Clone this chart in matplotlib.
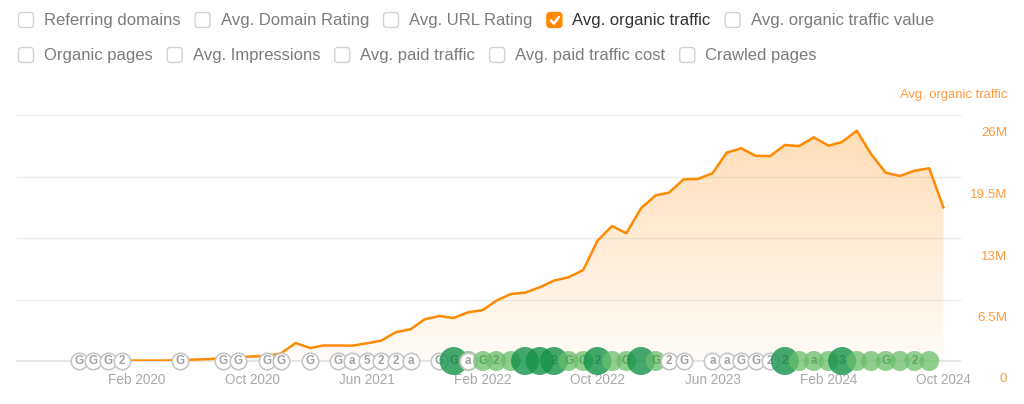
import numpy as np
import pandas as pd
import matplotlib
matplotlib.use("Agg")
import matplotlib.pyplot as plt
import matplotlib.dates as mdates
import matplotlib.transforms as mtransforms
from matplotlib.patches import FancyBboxPatch

plt.rcParams['font.family'] = ['Liberation Sans', 'DejaVu Sans']

# ---------------- data ----------------
months = pd.date_range("2020-01-01", "2024-10-01", freq="MS")
traffic_m = [
    0.05, 0.05, 0.05, 0.05, 0.10, 0.15, 0.20, 0.30, 0.40, 0.48, 0.53, 0.80,      # 2020
    1.90, 1.37, 1.64, 1.64, 1.62, 1.87, 2.15, 3.05, 3.35, 4.41, 4.76, 4.54,      # 2021
    5.15, 5.39, 6.37, 7.08, 7.22, 7.79, 8.49, 8.85, 9.62, 12.71, 14.27, 13.50,   # 2022
    16.14, 17.51, 17.79, 19.20, 19.24, 19.84, 22.02, 22.48, 21.67, 21.67, 22.83, 22.72,  # 2023
    23.64, 22.76, 23.15, 24.34, 21.88, 19.90, 19.55, 20.11, 20.37, 16.24,        # 2024
]

y_ticks_m = [0, 6.5, 13, 19.5, 26]
y_tick_labels = ["0", "6.5M", "13M", "19.5M", "26M"]
x_tick_dates = pd.to_datetime(["2020-02-01", "2020-10-01", "2021-06-01", "2022-02-01",
                               "2022-10-01", "2023-06-01", "2024-02-01", "2024-10-01"])
x_tick_labels = ["Feb 2020", "Oct 2020", "Jun 2021", "Feb 2022",
                 "Oct 2022", "Jun 2023", "Feb 2024", "Oct 2024"]

# update markers: date, kind (w = grey outline, l = light green, d = dark green), label
marker_dates = pd.to_datetime([
    "2019-10-01", "2019-11-01", "2019-12-01", "2020-01-01",
    "2020-05-01", "2020-08-01", "2020-09-01", "2020-11-01", "2020-12-01",
    "2021-02-01", "2021-04-01", "2021-05-01", "2021-06-01", "2021-07-01",
    "2021-08-01", "2021-09-01", "2021-11-01", "2021-12-01", "2022-01-01",
    "2022-01-01", "2022-02-01", "2022-03-01", "2022-04-01", "2022-05-01",
    "2022-06-01", "2022-07-01", "2022-08-01", "2022-09-01", "2022-10-01",
    "2022-11-01", "2022-12-01", "2023-01-01", "2023-02-01", "2023-03-01",
    "2023-04-01", "2023-06-01", "2023-07-01", "2023-08-01", "2023-09-01",
    "2023-10-01", "2023-11-01", "2023-12-01", "2024-01-01", "2024-02-01",
    "2024-03-01", "2024-04-01", "2024-05-01", "2024-06-01", "2024-07-01",
    "2024-08-01", "2024-09-01",
])
marker_kinds = [
    "w", "w", "w", "w",
    "w", "w", "w", "w", "w",
    "w", "w", "w", "w", "w",
    "w", "w", "w", "d", "l",
    "w", "l", "l", "l", "d",
    "d", "d", "l", "l", "d",
    "l", "l", "d", "l", "w",
    "w", "w", "w", "w", "w",
    "w", "d", "l", "l", "l",
    "d", "l", "l", "l", "l",
    "l", "l",
]
marker_labels = [
    "G", "G", "G", "2",
    "G", "G", "G", "G", "G",
    "G", "G", "a", "5", "2",
    "2", "a", "G", "G", "",
    "a", "G", "2", "", "",
    "", "2", "G", "G", "2",
    "", "G", "", "G", "2",
    "G", "a", "a", "G", "G",
    "2", "2", "", "a", "",
    "3", "", "", "G", "",
    "2", "",
]

legend_row1 = ["Referring domains", "Avg. Domain Rating", "Avg. URL Rating",
               "Avg. organic traffic", "Avg. organic traffic value"]
legend_row2 = ["Organic pages", "Avg. Impressions", "Avg. paid traffic",
               "Avg. paid traffic cost", "Crawled pages"]
checked_item = "Avg. organic traffic"

# ---------------- figure ----------------
W, H = 1024, 404
fig = plt.figure(figsize=(W / 100, H / 100), dpi=100)
fig.patch.set_facecolor("white")

# overlay axes in pixel coordinates (for legend / header)
lax = fig.add_axes([0, 0, 1, 1], zorder=0)
lax.set_xlim(0, W)
lax.set_ylim(H, 0)
lax.axis("off")

left_px, right_px, top_px, base_px = 17, 960, 115, 361
ax = fig.add_axes([left_px / W, (H - base_px) / H, (right_px - left_px) / W,
                   (base_px - top_px) / H], zorder=2)
ax.patch.set_alpha(0)

ORANGE = "#ff8a00"
LABEL_ORANGE = "#ff9a3c"

# x limits from pixel layout
px_per_day = (943.4 - 137) / (mdates.date2num(pd.Timestamp("2024-10-01")) - mdates.date2num(pd.Timestamp("2020-02-01")))
x_feb = mdates.date2num(pd.Timestamp("2020-02-01"))
x0 = x_feb - (137 - left_px) / px_per_day
x1 = x_feb + (right_px - 137) / px_per_day
ax.set_xlim(x0, x1)
ax.set_ylim(0, 26)

for s in ax.spines.values():
    s.set_visible(False)
ax.set_yticks([])

# grid lines
for v in y_ticks_m[1:]:
    ax.axhline(v, color="#ececec", lw=1.0, zorder=0, clip_on=False)
ax.axhline(0, color="#e2e2e2", lw=1.2, zorder=0.5, clip_on=False)

# gradient area
xnum = mdates.date2num(months)
yv = np.array(traffic_m)
poly = ax.fill_between(xnum, yv, 0, facecolor="none", edgecolor="none", zorder=1)
grad = np.linspace(0, 1, 256).reshape(-1, 1)
rgba = np.zeros((256, 1, 4))
rgba[..., 0] = 1.0
rgba[..., 1] = 0.54
rgba[..., 2] = 0.0
rgba[..., 3] = 0.03 + 0.27 * grad
im = ax.imshow(rgba, extent=[xnum[0], xnum[-1], 0, 26], origin="lower",
               aspect="auto", zorder=1, interpolation="bilinear")
path = poly.get_paths()[0]
im.set_clip_path(path, transform=ax.transData)

ax.plot(xnum, yv, color=ORANGE, lw=1.8, zorder=3, solid_joinstyle="round")

# x ticks
ax.set_xticks(mdates.date2num(x_tick_dates))
ax.set_xticklabels(x_tick_labels)
ax.tick_params(axis="x", length=0, pad=8.5, labelsize=9.8, labelcolor="#a9a9a9")

# right tick labels (below their grid lines)
ytrans = ax.get_yaxis_transform() + mtransforms.ScaledTranslation(47 / 100, -18.5 / 100, fig.dpi_scale_trans)
for v, lab in zip(y_ticks_m, y_tick_labels):
    ax.text(1.0, v, lab, transform=ytrans, ha="right", va="center",
            fontsize=9.6, color=LABEL_ORANGE, clip_on=False)

lax.text(1007, 95, "Avg. organic traffic", ha="right", va="center",
         fontsize=9.4, color=LABEL_ORANGE)

# markers
sizes = {"w": 16.5, "l": 20, "d": 28}
for i, (d, k, lab) in enumerate(zip(marker_dates, marker_kinds, marker_labels)):
    xd = mdates.date2num(d)
    z = 10 + 2 * i
    dia_pt = sizes[k] * 0.72
    if k == "w":
        ax.scatter([xd], [0], s=dia_pt ** 2, facecolor="white", edgecolor="#c6c6c6",
                   linewidth=1.2, zorder=z, clip_on=False)
        tc, ta = "#a3a3a3", 1.0
    elif k == "l":
        ax.scatter([xd], [0], s=dia_pt ** 2, facecolor="#6abf69", edgecolor="none",
                   alpha=0.75, zorder=z, clip_on=False)
        tc, ta = "#4f9d52", 0.8
    else:
        ax.scatter([xd], [0], s=dia_pt ** 2, facecolor="#14934a", edgecolor="none",
                   alpha=0.8, zorder=z, clip_on=False)
        tc, ta = "#2f7e4c", 0.8
    if lab:
        ax.text(xd, 0, lab, ha="center", va="center", fontsize=8.4, fontweight="bold",
                color=tc, alpha=ta, zorder=z + 1, clip_on=False)

# checkbox legend
renderer = fig.canvas.get_renderer()


def draw_row(items, y, x_start):
    x = x_start
    for name in items:
        checked = name == checked_item
        box = FancyBboxPatch((x + 0.5, y - 8), 15, 15,
                             boxstyle="round,pad=0,rounding_size=3",
                             facecolor=ORANGE if checked else "white",
                             edgecolor=ORANGE if checked else "#d2d2d2",
                             linewidth=1.0)
        lax.add_patch(box)
        if checked:
            lax.plot([x + 4.5, x + 7.5, x + 12.5], [y + 0.0, y + 3.0, y - 3.5],
                     color="white", lw=1.8, solid_capstyle="round", solid_joinstyle="round")
        t = lax.text(x + 26, y, name, ha="left", va="center", fontsize=12.0,
                     color="#333333" if checked else "#7b7b7b")
        wpx = t.get_window_extent(renderer=renderer).width
        x = x + 26 + wpx + 14


draw_row(legend_row1, 20.5, 18)
draw_row(legend_row2, 55.5, 18)

fig.savefig("out.png", dpi=100, facecolor="white")
